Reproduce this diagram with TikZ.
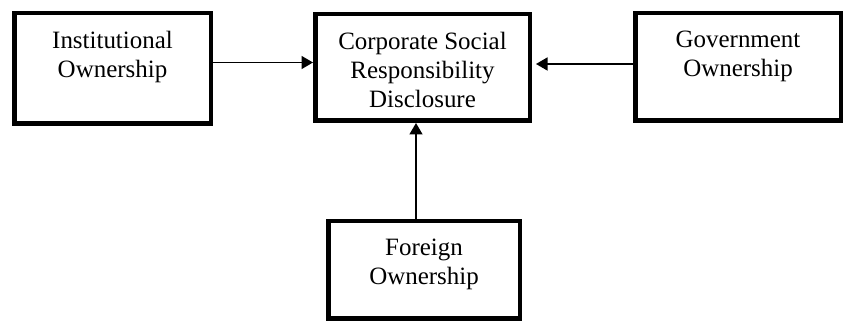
\documentclass[tikz,border=0pt]{standalone}
\usepackage{fontspec}
\setmainfont{Liberation Serif}
\usetikzlibrary{arrows.meta}
\tikzset{
  ownbox/.style={draw=black, line width=0.09cm, inner sep=0pt, fill=white},
  conn/.style={draw=black, line width=0.03cm, -{Triangle[length=0.23cm, width=0.26cm]}},
}
% box text: width, height, lines (set at the top of the box)
\newcommand{\BOXTXT}[3]{\parbox[c][#2][t]{#1}{\centering\fontsize{14.2}{16.5}\selectfont\vspace*{0.35cm}#3}}

\begin{document}
\begin{tikzpicture}
\useasboundingbox (0,0) rectangle (16.86,6.44);

% ============================================================ boxes
\node[ownbox] (inst) at (2.25, 5.07) {\BOXTXT{3.93cm}{2.21cm}{Institutional\\Ownership}};
\node[ownbox] (csr)  at (8.45, 5.09) {\BOXTXT{4.29cm}{2.13cm}{Corporate Social\\Responsibility\\Disclosure}};
\node[ownbox] (gov)  at (14.76, 5.10) {\BOXTXT{4.11cm}{2.15cm}{Government\\Ownership}};
\node[ownbox] (frgn) at (8.48, 1.04) {\BOXTXT{3.83cm}{1.95cm}{Foreign\\Ownership}};

% ============================================================ arrows
\draw[conn] ([yshift=0.12cm]inst.east) -- ([yshift=0.10cm]csr.west);
\draw[conn, shorten >=0.08cm] ([yshift=0.06cm]gov.west) -- ([yshift=0.07cm]csr.east);
\draw[conn] ([xshift=-0.16cm]frgn.north) -- ([xshift=-0.13cm]csr.south);

\end{tikzpicture}
\end{document}
